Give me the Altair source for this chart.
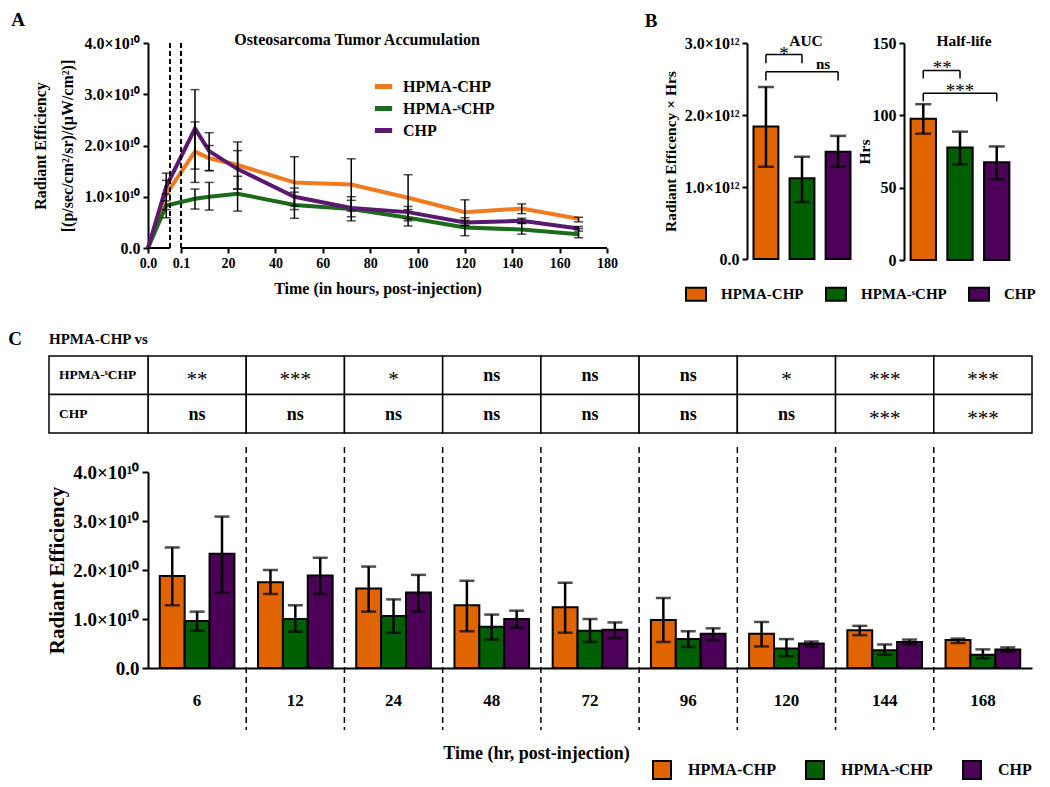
import altair as alt
import pandas as pd

FONT = "Liberation Serif"

series = ["HPMA-CHP", "HPMA-ˢCHP", "CHP"]
bar_colors = ["#E06400", "#005F00", "#4D0057"]
line_colors = ["#F27A1E", "#1B6B1B", "#5A1870"]

# ---- time course: radiant efficiency, units of 1e10 ----
time_c = [6, 12, 24, 48, 72, 96, 120, 144, 168]
hc_mean = [1.88, 1.75, 1.62, 1.28, 1.24, 0.98, 0.70, 0.77, 0.57]
hc_lo = [1.28, 1.51, 1.15, 0.75, 0.72, 0.53, 0.44, 0.67, 0.51]
hc_hi = [2.46, 2.00, 2.07, 1.78, 1.74, 1.43, 0.94, 0.86, 0.60]
sc_mean = [0.96, 1.00, 1.06, 0.84, 0.76, 0.59, 0.40, 0.36, 0.27]
sc_lo = [0.76, 0.74, 0.72, 0.58, 0.53, 0.43, 0.24, 0.27, 0.20]
sc_hi = [1.15, 1.28, 1.40, 1.09, 1.00, 0.75, 0.59, 0.48, 0.38]
chp_mean = [2.33, 1.89, 1.54, 1.00, 0.78, 0.70, 0.50, 0.53, 0.38]
chp_lo = [1.54, 1.51, 1.15, 0.82, 0.61, 0.57, 0.44, 0.48, 0.33]
chp_hi = [3.09, 2.25, 1.90, 1.17, 0.93, 0.81, 0.54, 0.58, 0.42]

# early points shown only in panel A (0 h and 5 min)
early_t = [0, 0.083]
early_hc, early_hc_lo, early_hc_hi = [0, 1.05], [0, 0.59], [0, 1.46]
early_sc, early_sc_lo, early_sc_hi = [0, 0.83], [0, 0.75], [0, 0.92]
early_chp, early_chp_lo, early_chp_hi = [0, 1.20], [0, 1.05], [0, 1.32]

# ---- panel B ----
auc_mean = [1.84, 1.12, 1.49]      # x1e12
auc_lo = [1.28, 0.79, 1.28]
auc_hi = [2.39, 1.42, 1.71]
hl_mean = [97.7, 77.8, 67.6]       # hours
hl_lo = [87.3, 66.0, 55.8]
hl_hi = [107.7, 88.7, 78.5]

auc_br_left = ["HPMA-CHP", "HPMA-CHP"]
auc_br_right = ["HPMA-ˢCHP", "CHP"]
auc_br_y = [2.84, 2.60]
auc_br_leg = [2.72, 2.48]
auc_br_txt = ["*", "ns"]
auc_br_ty = [2.92, 2.71]
auc_txt_at = ["HPMA-CHP", "HPMA-ˢCHP"]
auc_txt_dx = [18, 21]

hl_br_left = ["HPMA-CHP", "HPMA-CHP"]
hl_br_right = ["HPMA-ˢCHP", "CHP"]
hl_br_y = [131.0, 115.3]
hl_br_leg = [125.5, 109.7]
hl_br_txt = ["**", "***"]
hl_br_ty = [136.5, 120.5]
hl_txt_at = ["HPMA-CHP", "HPMA-ˢCHP"]
hl_txt_dx = [19, 0]

# ---- panel C table ----
tab_rows = ["HPMA-ˢCHP", "CHP"]
sig_vs_sc = ["**", "***", "*", "ns", "ns", "ns", "*", "***", "***"]
sig_vs_chp = ["ns", "ns", "ns", "ns", "ns", "ns", "ns", "***", "***"]

time_lbl = [str(t) for t in time_c]


def sci(sup):
    return "datum.value == 0 ? '0.0' : format(datum.value, '.1f') + '×10" + sup + "'"


def txt_layer(text, x, y, size, weight="bold", align="center", baseline="middle"):
    return alt.Chart(pd.DataFrame({"lab": [text]})).mark_text(
        font=FONT, fontSize=size, fontWeight=weight, align=align, baseline=baseline, color="black"
    ).encode(text="lab:N", x=alt.value(x), y=alt.value(y))


# ================= Panel A =================
rows_a = []
for s, em, elo, ehi, m, lo, hi in [
    (series[0], early_hc, early_hc_lo, early_hc_hi, hc_mean, hc_lo, hc_hi),
    (series[1], early_sc, early_sc_lo, early_sc_hi, sc_mean, sc_lo, sc_hi),
    (series[2], early_chp, early_chp_lo, early_chp_hi, chp_mean, chp_lo, chp_hi),
]:
    for t, a, b, c in zip(early_t + time_c, em + m, elo + lo, ehi + hi):
        rows_a.append({"t": t, "s": s, "m": a, "lo": b, "hi": c})
dfA = pd.DataFrame(rows_a)
dfA_err = dfA[dfA["t"] > 0]

WA, HA = 459, 205
xA_scale = alt.Scale(domain=[0, 0.1, 0.1001, 180], range=[0, 22, 33, WA], nice=False, zero=False)
yA_scale = alt.Scale(domain=[0, 4], nice=False)
xA_axis = alt.Axis(
    values=[0, 0.1001, 20, 40, 60, 80, 100, 120, 140, 160, 180],
    labelExpr="datum.value < 0.05 ? '0.0' : (datum.value < 1 ? '0.1' : format(datum.value, 'd'))",
    domain=False, ticks=True, tickSize=5, tickWidth=2, tickColor="black",
    labelFont=FONT, labelFontSize=14, labelFontWeight="bold", labelColor="black",
    labelPadding=3, labelOverlap=False, labelFlush=False,
    title="Time (in hours, post-injection)", titleFont=FONT, titleFontSize=16,
    titleFontWeight="bold", titleColor="black", titlePadding=10, grid=False,
)
yA_axis = alt.Axis(
    values=[0, 1, 2, 3, 4], labelExpr=sci("¹⁰"),
    domainColor="black", domainWidth=2, tickSize=5, tickWidth=2, tickColor="black",
    labelFont=FONT, labelFontSize=16, labelFontWeight="bold", labelColor="black", labelPadding=3,
    title=["Radiant Efficiency", "[(p/sec/cm²/sr)/(µW/cm²)]"], titleFont=FONT, titleFontSize=16,
    titleFontWeight="bold", titleColor="black", titlePadding=9, titleLineHeight=27, grid=False,
)
legA = alt.Legend(
    title=None, orient="none", legendX=224, legendY=32, symbolType="stroke",
    symbolStrokeWidth=5, symbolSize=300, labelFont=FONT, labelFontSize=16,
    labelFontWeight="bold", labelColor="black", rowPadding=-4, labelOffset=8, padding=0,
)

xA = alt.X("t:Q", scale=xA_scale, axis=xA_axis)


def yA(f):
    return alt.Y(f, type="quantitative", scale=yA_scale, axis=yA_axis)


a_lines = alt.Chart(dfA).mark_line(strokeWidth=4).encode(
    x=xA, y=yA("m"),
    color=alt.Color("s:N", scale=alt.Scale(domain=series, range=line_colors), legend=legA),
)
a_err = alt.Chart(dfA_err).mark_rule(color="black", strokeWidth=1.5).encode(x=xA, y=yA("lo"), y2="hi:Q")
a_cap_lo = alt.Chart(dfA_err).mark_tick(color="black", orient="horizontal", size=9, thickness=1.5).encode(
    x=xA, y=yA("lo"))
a_cap_hi = alt.Chart(dfA_err).mark_tick(color="black", orient="horizontal", size=9, thickness=1.5).encode(
    x=xA, y=yA("hi"))
seg = pd.DataFrame({"t": [0, 0.1001], "b": [0.1, 180]})
a_dom = alt.Chart(seg).mark_rule(color="black", strokeWidth=2).encode(x=xA, x2="b:Q", y=alt.value(HA))
brk = pd.DataFrame({"t": [0.1, 0.1001]})
a_brk = alt.Chart(brk).mark_rule(color="black", strokeWidth=2, strokeDash=[5, 3]).encode(
    x=xA, y=alt.value(0), y2=alt.value(HA))

A = alt.layer(
    a_lines, a_brk, a_dom, a_err, a_cap_lo, a_cap_hi,
    txt_layer("Osteosarcoma Tumor Accumulation", 209, -3, 16),
    txt_layer("A", -130, -23, 19),
).properties(width=WA, height=HA)


# ================= Panel B =================
legB = alt.Legend(
    title=None, orient="none", legendX=-62, legendY=240, direction="horizontal",
    symbolType="M-1,-0.65H1V0.65H-1Z", symbolSize=400, symbolStrokeColor="black",
    symbolStrokeWidth=2, symbolOpacity=1, labelFont=FONT, labelFontSize=15,
    labelFontWeight="bold", labelColor="black", labelOffset=14, columnPadding=18, padding=0,
)


def panel_b(mean, lo, hi, ymax, yvals, label_expr, ytitle, W, H, br_left, br_right, br_y,
            br_leg, br_txt, br_ty, txt_at, txt_dx, title, title_x, extra=None, tpad=6):
    df = pd.DataFrame({"s": series, "m": mean, "lo": lo, "hi": hi})
    xs = alt.Scale(domain=series, paddingInner=0.31, paddingOuter=0.18)
    ys = alt.Scale(domain=[0, ymax], nice=False)
    yaxis = alt.Axis(
        values=yvals, labelExpr=label_expr, domainColor="black", domainWidth=2, tickSize=5,
        tickWidth=2, tickColor="black", labelFont=FONT, labelFontSize=16, labelFontWeight="bold",
        labelColor="black", labelPadding=3, title=ytitle, titleFont=FONT, titleFontSize=15.5,
        titleFontWeight="bold", titleColor="black", titlePadding=tpad, grid=False,
    )

    def X(f):
        return alt.X(f, type="nominal", scale=xs, axis=None)

    def Y(f):
        return alt.Y(f, type="quantitative", scale=ys, axis=yaxis)

    bars = alt.Chart(df).mark_bar(stroke="black", strokeWidth=2).encode(
        x=X("s"), y=Y("m"),
        fill=alt.Fill("s:N", scale=alt.Scale(domain=series, range=bar_colors), legend=legB),
    )
    err = alt.Chart(df).mark_rule(color="black", strokeWidth=2.5).encode(x=X("s"), y=Y("lo"), y2="hi:Q")
    cl = alt.Chart(df).mark_tick(color="black", orient="horizontal", size=16, thickness=2.5).encode(
        x=X("s"), y=Y("lo"))
    ch = alt.Chart(df).mark_tick(color="black", orient="horizontal", size=16, thickness=2.5).encode(
        x=X("s"), y=Y("hi"))
    dfbr = pd.DataFrame({"s": br_left, "r": br_right, "m": br_y})
    hline = alt.Chart(dfbr).mark_rule(color="black", strokeWidth=1.5).encode(
        x=X("s"), x2="r", y=Y("m"))
    legs = pd.DataFrame({
        "s": list(br_left) + list(br_right),
        "lo": list(br_leg) * 2,
        "hi": list(br_y) * 2,
    })
    vline = alt.Chart(legs).mark_rule(color="black", strokeWidth=1.5).encode(
        x=X("s"), y=Y("lo"), y2="hi:Q")
    layers = [bars, err, cl, ch, hline, vline]
    for at, dx, ty, tx in zip(txt_at, txt_dx, br_ty, br_txt):
        star = tx != "ns"
        layers.append(
            alt.Chart(pd.DataFrame({"s": [at], "m": [ty], "t": [tx]})).mark_text(
                font=FONT, fontSize=19 if star else 15, fontWeight="normal" if star else "bold",
                dx=dx, dy=5 if star else 0, color="black", baseline="middle",
            ).encode(x=X("s"), y=Y("m"), text="t:N")
        )
    layers.append(txt_layer(title, title_x, -2, 15.5))
    if extra is not None:
        layers.append(extra)
    return alt.layer(*layers).properties(width=W, height=H)


AUC = panel_b(auc_mean, auc_lo, auc_hi, 3, [0, 1, 2, 3], sci("¹²"), "Radiant Efficency × Hrs",
              110, 216, auc_br_left, auc_br_right, auc_br_y, auc_br_leg, auc_br_txt, auc_br_ty,
              auc_txt_at, auc_txt_dx, "AUC", 59, extra=txt_layer("B", -96, -22, 19), tpad=6)
HL = panel_b(hl_mean, hl_lo, hl_hi, 150, [0, 50, 100, 150], "format(datum.value, 'd')", "Hrs",
             112, 217, hl_br_left, hl_br_right, hl_br_y, hl_br_leg, hl_br_txt, hl_br_ty,
             hl_txt_at, hl_txt_dx, "Half-life", 60, tpad=0)

B = alt.hconcat(AUC, HL, spacing=0)

top = alt.hconcat(A, B, spacing=26).resolve_scale(fill="independent", color="independent")


# ================= Panel C table =================
WC = 884
rows_t = []
for t, a, b in zip(time_lbl, sig_vs_sc, sig_vs_chp):
    rows_t.append({"t": t, "r": tab_rows[0], "sig": a})
    rows_t.append({"t": t, "r": tab_rows[1], "sig": b})
dfT = pd.DataFrame(rows_t)
xT = alt.X("t:N", sort=time_lbl, scale=alt.Scale(domain=time_lbl, paddingInner=0, paddingOuter=0), axis=None)
yT = alt.Y("r:N", sort=tab_rows, scale=alt.Scale(domain=tab_rows, paddingInner=0, paddingOuter=0), axis=None)
cells = alt.Chart(dfT).mark_rect(fill="white", stroke="black", strokeWidth=1.5).encode(x=xT, y=yT)
dfR = pd.DataFrame({"r": tab_rows})
rcells = alt.Chart(dfR).mark_rect(fill="white", stroke="black", strokeWidth=1.5).encode(
    x=alt.value(-99), x2=alt.value(0), y=yT)
rtext = alt.Chart(dfR).mark_text(font=FONT, fontSize=13.5, fontWeight="bold", align="left", color="black").encode(
    x=alt.value(-89), y=yT, text="r:N")
stars = alt.Chart(dfT).transform_filter("datum.sig != 'ns'").mark_text(
    font=FONT, fontSize=21, fontWeight="normal", dy=5, color="black").encode(x=xT, y=yT, text="sig:N")
nstext = alt.Chart(dfT).transform_filter("datum.sig == 'ns'").mark_text(
    font=FONT, fontSize=18, fontWeight="bold", dy=1, color="black").encode(x=xT, y=yT, text="sig:N")
table = alt.layer(
    cells, rcells, rtext, stars, nstext,
    txt_layer("C", -133, -17, 19),
    txt_layer("HPMA-CHP vs", -99, -17, 15, align="left"),
).properties(width=WC, height=77)


# ================= Panel C bars =================
HC = 196
rows_c = []
for s, m, lo, hi in [(series[0], hc_mean, hc_lo, hc_hi), (series[1], sc_mean, sc_lo, sc_hi),
                     (series[2], chp_mean, chp_lo, chp_hi)]:
    for t, a, b, c in zip(time_lbl, m, lo, hi):
        rows_c.append({"t": t, "s": s, "m": a, "lo": b, "hi": c})
dfC = pd.DataFrame(rows_c)

xC_scale = alt.Scale(domain=time_lbl, paddingInner=0.24, paddingOuter=0.12)
xC_axis = alt.Axis(
    ticks=False, domain=True, domainColor="black", domainWidth=2, labelFont=FONT, labelFontSize=17,
    labelFontWeight="bold", labelColor="black", labelPadding=24, labelAngle=0,
    title="Time (hr, post-injection)", titleFont=FONT, titleFontSize=18, titleFontWeight="bold",
    titleColor="black", titlePadding=36, titleX=388, grid=False,
)
yC_scale = alt.Scale(domain=[0, 4], nice=False)
yC_axis = alt.Axis(
    values=[0, 1, 2, 3, 4], labelExpr=sci("¹⁰"), domainColor="black", domainWidth=2, tickSize=6,
    tickWidth=2, tickColor="black", labelFont=FONT, labelFontSize=19, labelFontWeight="bold",
    labelColor="black", labelPadding=3, title="Radiant Efficiency", titleFont=FONT, titleFontSize=21,
    titleFontWeight="bold", titleColor="black", titlePadding=5, grid=False,
)
xC = alt.X("t:N", sort=time_lbl, scale=xC_scale, axis=xC_axis)


def yC(f):
    return alt.Y(f, type="quantitative", scale=yC_scale, axis=yC_axis)


xoC = alt.XOffset("s:N", sort=series, scale=alt.Scale(domain=series, paddingInner=0, paddingOuter=0))
legC = alt.Legend(
    title=None, orient="none", legendX=504, legendY=288, direction="horizontal",
    symbolType="M-1,-1H1V1H-1Z", symbolSize=324, symbolStrokeColor="black", symbolStrokeWidth=2,
    symbolOpacity=1, labelFont=FONT, labelFontSize=16, labelFontWeight="bold", labelColor="black",
    labelOffset=16, columnPadding=26, padding=0,
)
c_bars = alt.Chart(dfC).mark_bar(stroke="black", strokeWidth=2).encode(
    x=xC, xOffset=xoC, y=yC("m"),
    fill=alt.Fill("s:N", scale=alt.Scale(domain=series, range=bar_colors), legend=legC),
)
c_err = alt.Chart(dfC).mark_rule(color="black", strokeWidth=2.5).encode(
    x=xC, xOffset=xoC, y=yC("lo"), y2="hi:Q")
c_cl = alt.Chart(dfC).mark_tick(color="black", orient="horizontal", size=15, thickness=2.5).encode(
    x=xC, xOffset=xoC, y=yC("lo"))
c_ch = alt.Chart(dfC).mark_tick(color="black", orient="horizontal", size=15, thickness=2.5).encode(
    x=xC, xOffset=xoC, y=yC("hi"))
sep = alt.Chart(pd.DataFrame({"b": list(range(1, len(time_c)))})).mark_rule(
    color="black", strokeWidth=1.5, strokeDash=[6, 4]).encode(
    x=alt.X("b:Q", scale=alt.Scale(domain=[0, len(time_c)]), axis=None),
    y=alt.value(-25), y2=alt.value(HC + 62))
C = alt.layer(sep, alt.layer(c_bars, c_err, c_cl, c_ch)).resolve_scale(x="independent").properties(
    width=WC, height=HC)

bottom = alt.vconcat(table, C, spacing=12).resolve_scale(fill="independent", color="independent")

chart = alt.vconcat(top, bottom, spacing=25).resolve_scale(
    fill="independent", color="independent"
).configure_view(stroke=None).properties(
    padding={"left": 0, "top": 3, "right": 0, "bottom": 0}, background="white")

chart.save("out.html", embed_options={"renderer": "svg", "actions": False})
